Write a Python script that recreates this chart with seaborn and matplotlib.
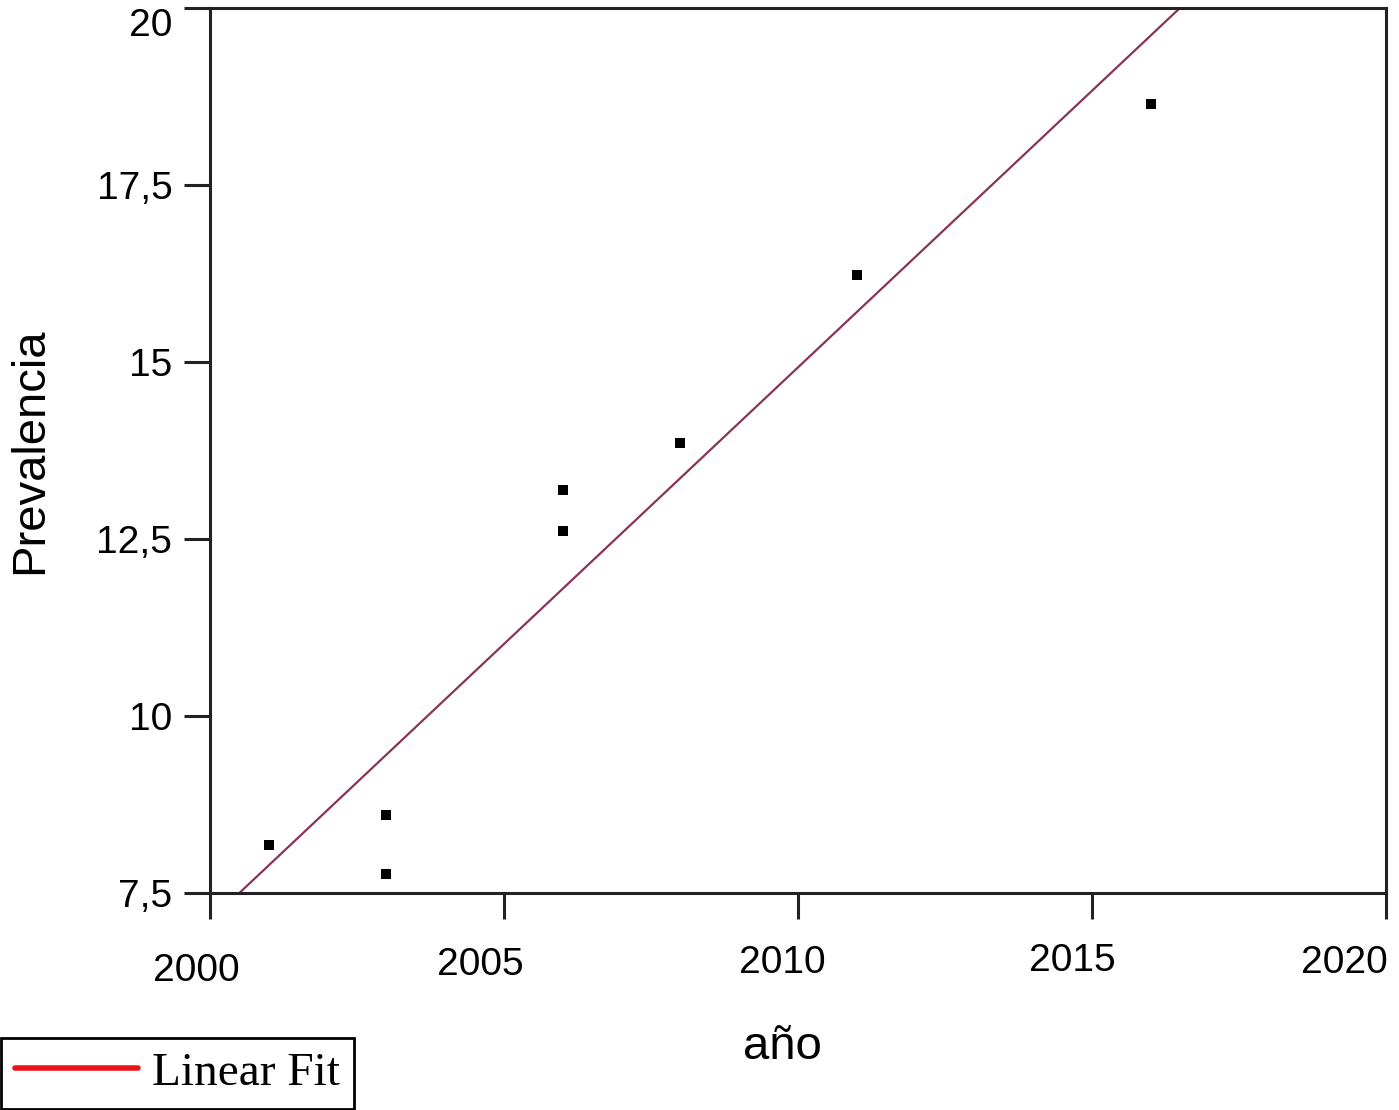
import numpy as np
import pandas as pd
import matplotlib
matplotlib.use("Agg")
import matplotlib.pyplot as plt
import matplotlib.transforms as mtransforms
import seaborn as sns
from matplotlib.lines import Line2D

# 数据：年份与患病率
years = [2001, 2003, 2003, 2006, 2006, 2008, 2011, 2016]
prev = [8.18, 8.60, 7.77, 13.19, 12.61, 13.86, 16.23, 18.64]
x_ticks = [2000, 2005, 2010, 2015, 2020]
y_ticks = [7.5, 10, 12.5, 15, 17.5, 20]
y_tick_labels = ["7,5", "10", "12,5", "15", "17,5", "20"]

df = pd.DataFrame({"año": years, "Prevalencia": prev})

sns.set_style("ticks")
plt.rcParams["font.family"] = ["Liberation Sans", "DejaVu Sans"]
plt.rcParams["text.color"] = "black"
plt.rcParams["axes.labelcolor"] = "black"

fig = plt.figure(figsize=(13.99, 11.10), dpi=100)
ax = fig.add_axes([0.150, 0.1955, 0.841, 0.7973])

ax.set_xlim(2000, 2020)
ax.set_ylim(7.5, 20)

# 拟合直线（线性回归）
sns.regplot(data=df, x="año", y="Prevalencia", ax=ax, scatter=False, ci=None,
            truncate=False, line_kws={"color": "#8a3358", "lw": 1.6})
# 散点
sns.scatterplot(data=df, x="año", y="Prevalencia", ax=ax, marker="s",
                s=60, color="black", edgecolor="black", linewidth=0, zorder=3)

ax.set_xlim(2000, 2020)
ax.set_ylim(7.5, 20)
ax.set_xticks(x_ticks)
ax.set_xticklabels([str(v) for v in x_ticks])
ax.set_yticks(y_ticks)
ax.set_yticklabels(y_tick_labels)

for s in ax.spines.values():
    s.set_linewidth(2.2)
    s.set_color("#222222")
ax.tick_params(axis="x", direction="out", length=19, width=2.2,
               labelsize=28, pad=20, colors="#222222", labelcolor="black")
ax.tick_params(axis="y", direction="out", length=19, width=2.2,
               labelsize=28, pad=8, colors="#222222", labelcolor="black")

# x刻度标签略微左移（与原图一致），最顶部的y标签下移
x_shift = [(-14, -6), (-24, 0), (-16, 2), (-20, 4), (-42, 2)]
for lab, (dx, dy) in zip(ax.get_xticklabels(), x_shift):
    lab.set_transform(lab.get_transform() +
                      mtransforms.ScaledTranslation(dx / 100, dy / 100, fig.dpi_scale_trans))
ax.get_yticklabels()[-1].set_va("top")

ax.set_xlabel("año", fontsize=34, labelpad=26)
ax.xaxis.label.set_x(0.487)
ax.set_ylabel("Prevalencia", fontsize=34, labelpad=32)

# 图例（左下角）
handle = Line2D([0], [0], color="#e8141a", lw=4, solid_capstyle="round")
leg = fig.legend([handle], ["Linear Fit"], loc="lower left",
                 bbox_to_anchor=(0.0, 0.0), frameon=True, fancybox=False,
                 framealpha=1,
                 prop={"family": "Liberation Serif", "size": 34},
                 handlelength=2.6, handletextpad=0.3, borderpad=0.3,
                 borderaxespad=0.02)
leg.get_frame().set_edgecolor("black")
leg.get_frame().set_linewidth(2)

fig.savefig("out.png", dpi=100)
